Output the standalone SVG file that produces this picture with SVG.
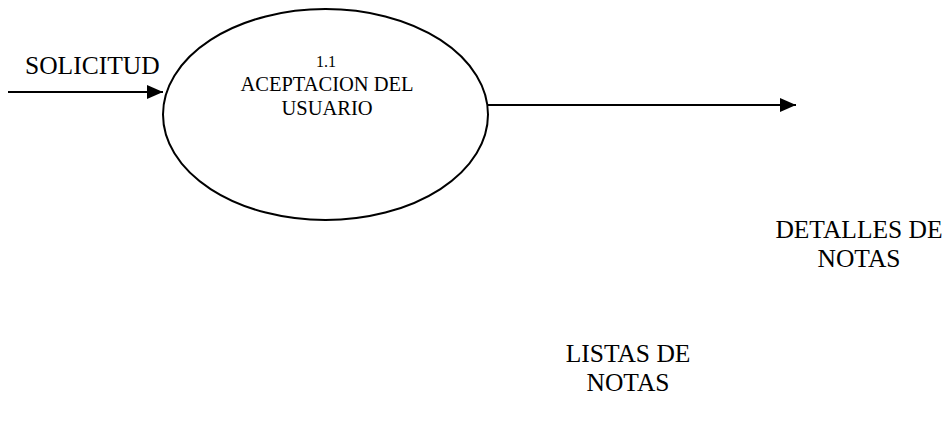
<svg xmlns="http://www.w3.org/2000/svg" width="952" height="421" viewBox="0 0 952 421">
<style>
text{font-family:"Times New Roman","Liberation Serif",Tinos,"DejaVu Serif","Noto Serif",Times,serif}
.lbl{font-size:25.5px}
.in{font-size:20.5px}
.conn{stroke:#000;stroke-width:2;fill:none}
</style>
<defs>
<marker id="ah" viewBox="0 0 16 14" refX="16" refY="7" markerWidth="16" markerHeight="14" markerUnits="userSpaceOnUse" orient="auto">
<path d="M0,0 L16,7 L0,14 Z" fill="#000"/>
</marker>
</defs>
<rect width="952" height="421" fill="#fff"/>
<g id="connectors">
<line class="conn" x1="8" y1="92" x2="163" y2="92" marker-end="url(#ah)"/>
<line class="conn" x1="488" y1="105" x2="796" y2="105" marker-end="url(#ah)"/>
</g>
<g id="process-1-1">
<ellipse cx="325.5" cy="114.5" rx="162.5" ry="105.5" fill="#fff" stroke="#000" stroke-width="2"/>
<text x="326" y="67" text-anchor="middle" font-size="16">1.1</text>
<text class="in" x="327" y="91" text-anchor="middle">ACEPTACION DEL</text>
<text class="in" x="327" y="115" text-anchor="middle">USUARIO</text>
</g>
<g id="label-solicitud">
<text class="lbl" x="25" y="74">SOLICITUD</text>
</g>
<g id="label-detalles">
<text class="lbl" x="859" y="238" text-anchor="middle">DETALLES DE</text>
<text class="lbl" x="859" y="267" text-anchor="middle">NOTAS</text>
</g>
<g id="label-listas">
<text class="lbl" x="628" y="362" text-anchor="middle">LISTAS DE</text>
<text class="lbl" x="628" y="391" text-anchor="middle">NOTAS</text>
</g>
</svg>
